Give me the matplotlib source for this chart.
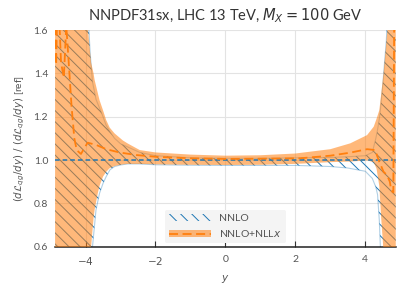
import numpy as np
import matplotlib
matplotlib.use("Agg")
import matplotlib.pyplot as plt

# --- datos ---
# banda NNLO (ref)
y_nnlo = [-4.87, -4.0, -3.95, -3.87, -3.8, -3.7, -3.6, -3.5, -3.41, -3.3, -3.17, -3.0,
          -2.79, -2.45, -2.0, -1.0, 0.0, 1.0, 2.0, 3.0, 3.5, 4.0, 4.2, 4.3, 4.35, 4.4,
          4.43, 4.5, 4.6, 4.87]
nnlo_lo = [0.0, 0.0, 0.3, 0.45, 0.6, 0.77, 0.846, 0.892, 0.923, 0.955, 0.97, 0.977,
           0.982, 0.982, 0.978, 0.976, 0.975, 0.975, 0.975, 0.97, 0.963, 0.948, 0.915,
           0.875, 0.84, 0.72, 0.6, 0.4, 0.2, 0.0]
nnlo_hi = [2.5, 2.2, 1.75, 1.5, 1.36, 1.28, 1.24, 1.2, 1.16, 1.13, 1.1, 1.075,
           1.06, 1.035, 1.02, 1.01, 1.008, 1.008, 1.01, 1.012, 1.015, 1.02, 1.035,
           1.1, 1.14, 1.19, 1.23, 1.35, 1.55, 2.5]
nnlo_c = [1.0] * len(y_nnlo)

# banda NNLO+NLLx
y_res = [-4.87, -3.93, -3.87, -3.84, -3.77, -3.74, -3.65, -3.6, -3.5, -3.41, -3.31,
         -3.17, -2.93, -2.79, -2.45, -2.0, -1.0, 0.0, 1.0, 2.0, 3.0, 3.57, 4.05, 4.24,
         4.32, 4.40, 4.45, 4.52, 4.63, 4.87]
res_lo = [0.0, 0.3, 0.5, 0.6, 0.73, 0.77, 0.846, 0.88, 0.923, 0.945, 0.962, 0.972,
          0.98, 0.982, 0.982, 0.98, 0.978, 0.977, 0.978, 0.982, 0.99, 0.993, 0.998,
          0.99, 0.96, 0.88, 0.74, 0.58, 0.3, 0.0]
res_hi = [2.5, 1.6, 1.5, 1.45, 1.4, 1.37, 1.31, 1.277, 1.23, 1.185, 1.15, 1.123,
          1.09, 1.076, 1.046, 1.035, 1.025, 1.02, 1.022, 1.03, 1.05, 1.077, 1.115,
          1.154, 1.19, 1.23, 1.3, 1.4, 1.6, 2.5]

# central NNLO+NLLx
y_res_c = [-4.87, -4.84, -4.80, -4.75, -4.70, -4.62, -4.55, -4.48, -4.40, -4.32, -4.25,
           -4.13, -4.05, -3.94, -3.70, -3.41, -3.03, -2.55, -2.0, -1.0, 0.0, 1.0, 2.14,
           3.0, 3.57, 4.05, 4.28, 4.38, 4.52, 4.62, 4.70, 4.74, 4.80, 4.83, 4.87]
res_c = [1.9, 1.44, 1.75, 1.65, 1.45, 1.38, 1.62, 1.45, 1.25, 1.10, 1.045, 1.028, 1.05,
         1.08, 1.07, 1.05, 1.035, 1.023, 1.015, 1.008, 1.005, 1.006, 1.008, 1.02, 1.034,
         1.05, 1.046, 1.0, 0.946, 0.93, 0.9, 0.86, 0.85, 1.8, 2.0]

xticks = [-4, -2, 0, 2, 4]
yticks = [0.6, 0.8, 1.0, 1.2, 1.4, 1.6]

# --- estilo ---
plt.rcParams["font.family"] = ["Lato", "DejaVu Sans"]
plt.rcParams["mathtext.fontset"] = "dejavusans"
plt.rcParams["hatch.linewidth"] = 0.7

C_BLUE = "#1f77b4"
C_ORANGE = "#ff7f0e"

fig = plt.figure(figsize=(4.08, 2.95), dpi=100)
ax = fig.add_axes([0.135, 0.164, 0.835, 0.734])

# NNLO con rayado (bordes claros aparte)
band_nnlo = ax.fill_between(y_nnlo, nnlo_lo, nnlo_hi, facecolor="none",
                            edgecolor=C_BLUE, hatch="\\\\\\", linewidth=0, zorder=2)
ax.plot(y_nnlo, nnlo_lo, color=C_BLUE, lw=0.8, alpha=0.35, zorder=2)
ax.plot(y_nnlo, nnlo_hi, color=C_BLUE, lw=0.8, alpha=0.35, zorder=2)
band_res = ax.fill_between(y_res, res_lo, res_hi, facecolor=C_ORANGE, alpha=0.55,
                           linewidth=0, zorder=3)
ax.plot(y_nnlo, nnlo_c, color=C_BLUE, ls=(0, (3, 2)), lw=1.1, zorder=4)
line_res, = ax.plot(y_res_c, res_c, color=C_ORANGE, ls=(0, (5, 2.5)), lw=1.3, zorder=5)

ax.set_xlim(-4.87, 4.87)
ax.set_ylim(0.6, 1.6)
ax.set_xticks(xticks)
ax.set_yticks(yticks)
ax.set_xticklabels([f"$-{abs(t)}$" if t < 0 else f"{t}" for t in xticks])
ax.set_yticklabels([f"{t:.1f}" for t in yticks])

ax.grid(True, color="#e3e3e3", lw=0.8, zorder=0)
ax.set_axisbelow(True)
for s in ["top", "right", "left"]:
    ax.spines[s].set_visible(False)
ax.spines["bottom"].set_color("#222222")
ax.spines["bottom"].set_linewidth(1.1)
ax.tick_params(axis="x", direction="in", length=4, width=0.8, color="#333333",
               labelsize=7.5, labelcolor="#555555", pad=6)
ax.tick_params(axis="y", length=0, labelsize=7.5, labelcolor="#555555", pad=5)

ax.set_xlabel("$y$", fontsize=7.5, color="#555555")
ax.set_ylabel(r"$(d\mathcal{L}_{qg}/dy)\ /\ (d\mathcal{L}_{qg}/dy)$ [ref]",
              fontsize=7.4, color="#555555", labelpad=5)
ax.set_title("NNPDF31sx, LHC 13 TeV, $M_X = 100$ GeV", fontsize=10.5,
             color="#333333", pad=7)

leg = ax.legend([band_nnlo, (band_res, line_res)], ["NNLO", "NNLO+NLL$x$"],
                loc="lower center", fontsize=7.5, handlelength=4, frameon=True,
                facecolor="#f4f4f4", edgecolor="none", framealpha=1,
                borderaxespad=0.3)
for t in leg.get_texts():
    t.set_color("#555555")

fig.savefig("out.png", dpi=100)
